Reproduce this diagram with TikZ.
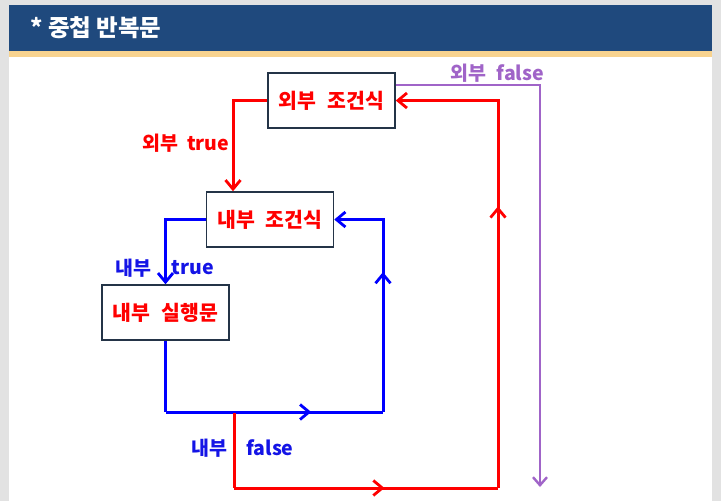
\documentclass[tikz,border=0pt]{standalone}
\usepackage{fontspec}
\setmainfont{Noto Sans CJK KR}
\usetikzlibrary{arrows.meta,decorations.markings}
\definecolor{titleblue}{RGB}{31,73,125}
\definecolor{stripe}{RGB}{248,211,143}
\definecolor{frame}{RGB}{226,226,226}
\definecolor{boxline}{RGB}{36,52,71}
\definecolor{pur}{RGB}{160,100,200}
\definecolor{rd}{RGB}{255,0,0}
\definecolor{bl}{RGB}{0,0,255}
\definecolor{bltext}{RGB}{20,20,230}
\tikzset{
  arr/.tip={Straight Barb[length=9pt,width=15pt,line width=2.8pt]},
  box/.style={draw=boxline, line width=1.5pt, fill=white, minimum width=127pt, minimum height=55pt, inner sep=0pt,
    text=rd, font=\bfseries\fontsize{20.5}{24}\selectfont},
  redline/.style={draw=rd, line width=3pt},
  blueline/.style={draw=bl, line width=3pt},
  purline/.style={draw=pur, line width=2.6pt},
  midarr/.style={decoration={markings, mark=at position #1 with {\arrow{arr}}}, postaction={decorate}},
  lab/.style={font=\bfseries\fontsize{19.5}{23}\selectfont, inner sep=0pt},
}
\begin{document}
\begin{tikzpicture}[x=1pt,y=-1pt]
\useasboundingbox (0,0) rectangle (721,501);
\fill[frame] (0,0) rectangle (721,501);
\fill[white] (9,5) rectangle (712,501);
\fill[titleblue] (9,5) rectangle (712,51);
\fill[stripe] (9,51) rectangle (712,57);
\node[anchor=west, text=white, font=\bfseries\fontsize{23.5}{28}\selectfont, inner sep=0pt] (title) at (30,28) {* 중첩 반복문};

\node[box] (outer) at (331.5,100.5) {외부\hspace{0.3em} 조건식};
\node[box] (inner) at (270,219.5) {내부\hspace{0.3em} 조건식};
\node[box] (exec) at (165.5,312.5) {내부\hspace{0.3em} 실행문};

% outer true
\draw[redline, -{arr}] (outer.west) -| ([xshift=-37pt]inner.north);
\node[lab, text=rd] (otrue) at (186,143) {외부\hspace{0.2em} true};

% inner true
\draw[blueline, -{arr}] (inner.west) -| (exec.north);
\node[lab, text=bltext] (itrue1) at (133,268) {내부};
\node[lab, text=bltext] (itrue2) at (193,268) {true};

% inner loop back
\coordinate (bA) at (165.5,412);
\coordinate (bB) at (383,412);
\draw[blueline] (exec.south) -- (bA);
\draw[blueline, midarr=0.67] (bA) -- (bB);
\draw[blueline, midarr=0.58, -{arr}] (bB) |- (inner.east);

% inner false -> back to outer
\coordinate (rA) at (234,413);
\coordinate (rB) at (234,488);
\coordinate (rC) at (498,488);
\draw[redline] (rA) -- (rB);
\draw[redline, midarr=0.57] (rB) -- (rC);
\draw[redline, midarr=0.575, -{arr}] (rC) |- (outer.east);
\node[lab, text=bltext] (ifalse1) at (209,448) {내부};
\node[lab, text=bltext] (ifalse2) at (270,448) {false};

% outer false
\coordinate (pA) at (540,85);
\coordinate (pB) at (540,487);
\draw[purline, -{Straight Barb[length=8pt,width=14pt,line width=2.4pt]}] ([yshift=15.5pt]outer.east) -- (pA) -- (pB);
\node[lab, text=pur] (ofalse) at (497,73) {외부\hspace{0.55em}false};
\end{tikzpicture}
\end{document}
